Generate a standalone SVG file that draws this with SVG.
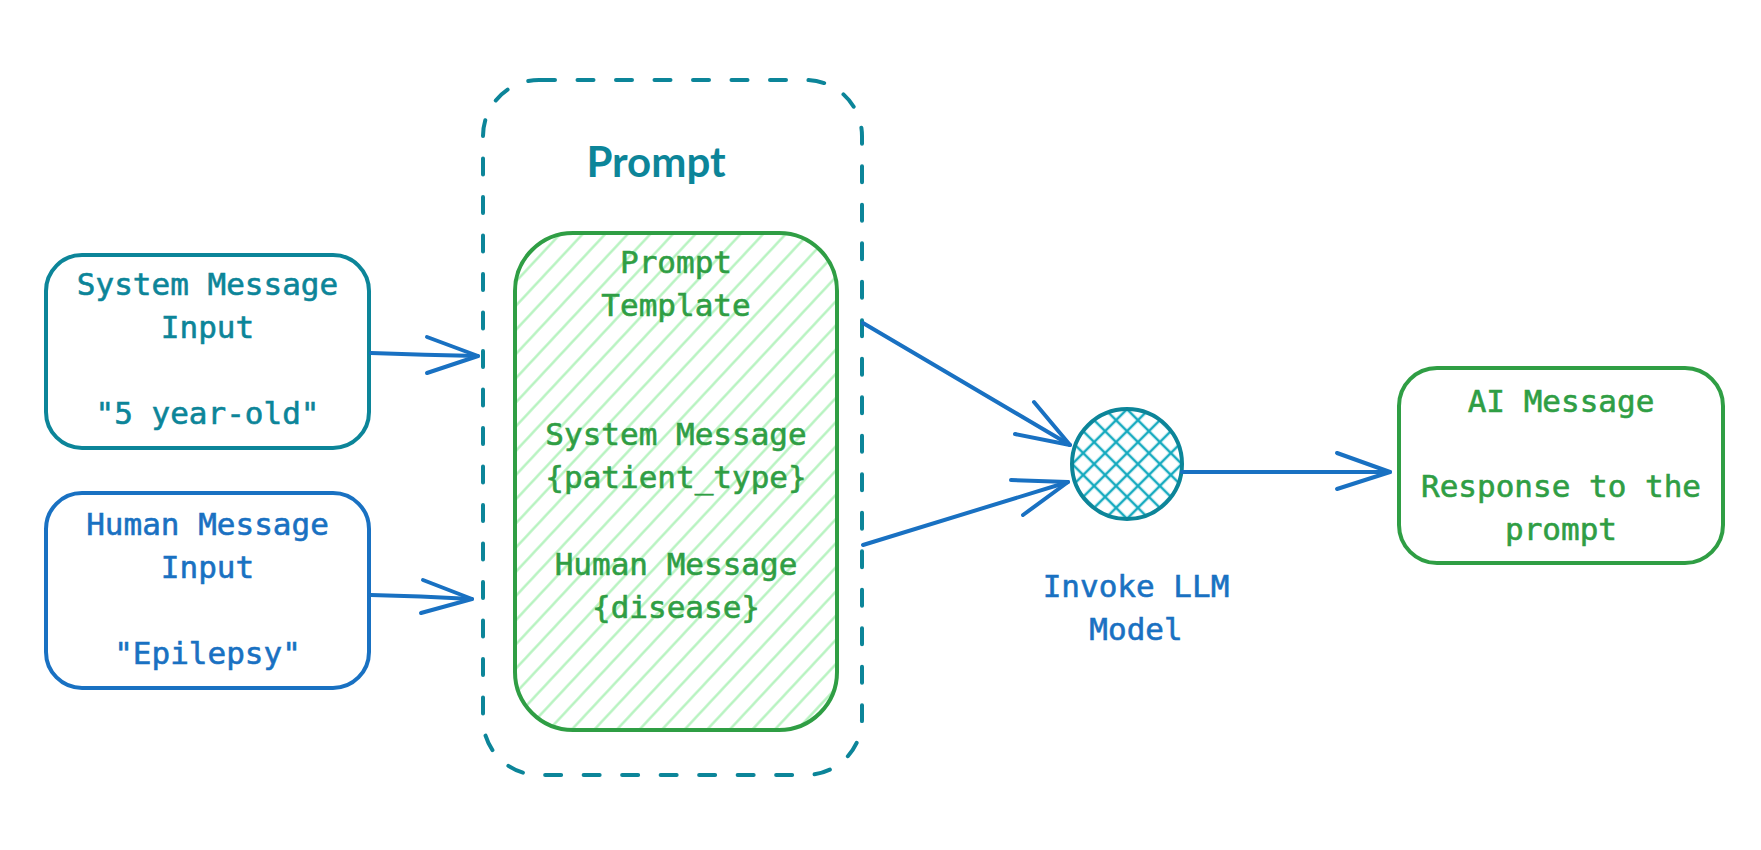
<svg xmlns="http://www.w3.org/2000/svg" width="1761" height="850" viewBox="0 0 1761 850">
<style>
.mono{font-family:"DejaVu Sans Mono","Liberation Mono",monospace;font-size:31px;text-anchor:middle;stroke-width:0.6}
.teal{fill:#0c8599;stroke:#0c8599}
.blue{fill:#1971c2;stroke:#1971c2}
.green{fill:#2f9e44;stroke:#2f9e44}
.box{fill:#ffffff;stroke-width:4}
.conn{fill:none;stroke:#1971c2;stroke-width:4;stroke-linecap:round;stroke-linejoin:round}
</style>
<defs>
<pattern id="hatch" width="16.5" height="16.5" patternUnits="userSpaceOnUse" patternTransform="rotate(43)">
<line x1="8.25" y1="0" x2="8.25" y2="16.5" stroke="#b2f2bb" stroke-width="2.3"/>
</pattern>
<pattern id="cross" width="15.5" height="15.5" patternUnits="userSpaceOnUse" patternTransform="translate(1127 464) rotate(45)">
<line x1="7.75" y1="0" x2="7.75" y2="15.5" stroke="#15aabf" stroke-width="2.5"/>
<line x1="0" y1="7.75" x2="15.5" y2="7.75" stroke="#15aabf" stroke-width="2.5"/>
</pattern>
</defs>
<rect width="1761" height="850" fill="#ffffff"/>

<g id="prompt-container">
<rect x="483" y="80" width="379" height="695" rx="56" fill="none" stroke="#0c8599" stroke-width="4" stroke-dasharray="16 22.5" stroke-linecap="round"/>
<text x="656" y="177" style="fill:#0c8599;font-family:Lato,'Open Sans',sans-serif;font-size:42px;font-weight:700;text-anchor:middle">Prompt</text>
</g>

<g id="prompt-template">
<rect x="515" y="233" width="322" height="497" rx="58" fill="url(#hatch)" stroke="#2f9e44" stroke-width="4"/>
<text class="mono green" x="676" y="273">Prompt</text>
<text class="mono green" x="676" y="316">Template</text>
<text class="mono green" x="676" y="445">System Message</text>
<text class="mono green" x="676" y="488">{patient_type}</text>
<text class="mono green" x="676" y="575">Human Message</text>
<text class="mono green" x="676" y="618">{disease}</text>
</g>

<g id="system-input">
<rect x="46" y="255" width="323" height="193" rx="36" class="box" stroke="#0c8599"/>
<text class="mono teal" x="207.5" y="295">System Message</text>
<text class="mono teal" x="207.5" y="338">Input</text>
<text class="mono teal" x="207.5" y="424">"5 year-old"</text>
</g>

<g id="human-input">
<rect x="46" y="493" width="323" height="195" rx="36" class="box" stroke="#1971c2"/>
<text class="mono blue" x="207.5" y="535">Human Message</text>
<text class="mono blue" x="207.5" y="578">Input</text>
<text class="mono blue" x="207.5" y="664">"Epilepsy"</text>
</g>

<g id="llm">
<circle cx="1127" cy="464" r="55" fill="url(#cross)" stroke="#0c8599" stroke-width="4"/>
<text class="mono blue" x="1136" y="597">Invoke LLM</text>
<text class="mono blue" x="1136" y="640">Model</text>
</g>

<g id="ai-message">
<rect x="1399" y="368" width="324" height="195" rx="38" class="box" stroke="#2f9e44"/>
<text class="mono green" x="1561" y="412">AI Message</text>
<text class="mono green" x="1561" y="497">Response to the</text>
<text class="mono green" x="1561" y="540">prompt</text>
</g>

<g id="connectors" class="conn">
<path d="M371 353 Q 425 355 478 356"/>
<path d="M427 337 L478 356 L427 373"/>
<path d="M371 595 Q 420 596 472 599"/>
<path d="M423 580 L472 599 L421 613"/>
<path d="M863 323 L1070 445"/>
<path d="M1034 402 L1070 445 L1015 434"/>
<path d="M863 545 L1068 482"/>
<path d="M1011 480 L1068 482 L1023 515"/>
<path d="M1182 472 L1390 472"/>
<path d="M1337 453 L1390 472 L1337 489"/>
</g>
</svg>
